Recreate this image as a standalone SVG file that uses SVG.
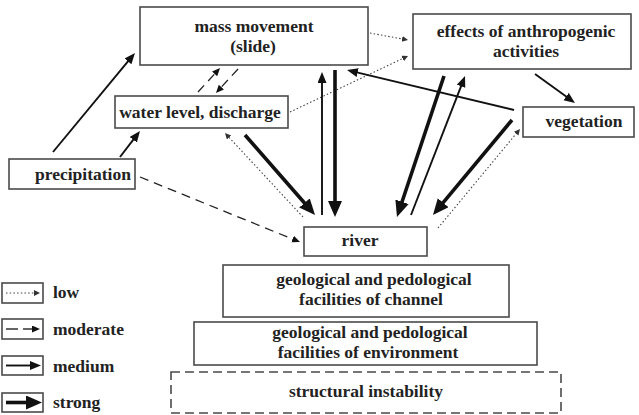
<svg xmlns="http://www.w3.org/2000/svg" width="639" height="415" viewBox="0 0 639 415">
<defs>
<style>
.box{fill:#fff;stroke:#4a4a4a;stroke-width:1.6}
.dbox{fill:#fff;stroke:#4a4a4a;stroke-width:1.6;stroke-dasharray:9,5}
.t{font-family:"Liberation Serif","Times New Roman",serif;font-weight:bold;font-size:17.5px;fill:#222;text-anchor:middle}
.lt{font-family:"Liberation Serif","Times New Roman",serif;font-weight:bold;font-size:17.5px;fill:#222}
.low{fill:none;stroke:#444;stroke-width:1.1;stroke-dasharray:1.5,2.2;marker-end:url(#mLow)}
.mod{fill:none;stroke:#222;stroke-width:1.3;stroke-dasharray:9,6;marker-end:url(#mMod)}
.med{fill:none;stroke:#111;stroke-width:1.9;marker-end:url(#mMed)}
.str{fill:none;stroke:#111;stroke-width:3.6;marker-end:url(#mStr)}
</style>
<marker id="mLow" markerUnits="userSpaceOnUse" markerWidth="8" markerHeight="8" refX="1" refY="3" orient="auto"><path d="M0,0 L6,3 L0,6 z" fill="#333"/></marker>
<marker id="mMod" markerUnits="userSpaceOnUse" markerWidth="10" markerHeight="10" refX="1" refY="3.5" orient="auto"><path d="M0,0 L8,3.5 L0,7 z" fill="#111"/></marker>
<marker id="mMed" markerUnits="userSpaceOnUse" markerWidth="12" markerHeight="12" refX="1" refY="4.5" orient="auto"><path d="M0,0 L11,4.5 L0,9 z" fill="#111"/></marker>
<marker id="mStr" markerUnits="userSpaceOnUse" markerWidth="18" markerHeight="16" refX="2" refY="7" orient="auto"><path d="M0,0 L16,7 L0,14 z" fill="#111"/></marker>
</defs>
<rect width="639" height="415" fill="#fff"/>

<g id="connectors">
<line class="med" x1="53" y1="152" x2="128.6" y2="60.7"/>
<line class="med" x1="120" y1="157" x2="133.9" y2="138.9"/>
<line class="mod" x1="140" y1="177" x2="293.5" y2="239.4"/>
<line class="mod" x1="198" y1="92" x2="215.3" y2="73.2"/>
<line class="mod" x1="238" y1="69" x2="220.7" y2="87.8"/>
<line class="low" x1="290" y1="112" x2="403.5" y2="58.1"/>
<line class="low" x1="370" y1="33" x2="403.1" y2="39.1"/>
<line class="low" x1="303" y1="217" x2="228.4" y2="136.7"/>
<line class="str" x1="245" y1="135" x2="305.8" y2="204.5"/>
<line class="med" x1="322" y1="215" x2="322" y2="82"/>
<line class="str" x1="335" y1="70" x2="335" y2="203"/>
<line class="med" x1="514" y1="110" x2="356.7" y2="72.3"/>
<line class="str" x1="444" y1="76" x2="401.4" y2="203.7"/>
<line class="med" x1="411" y1="215" x2="461.4" y2="85.3"/>
<line class="str" x1="512" y1="120" x2="441.9" y2="204.2"/>
<line class="low" x1="438" y1="228" x2="516.8" y2="132.9"/>
<line class="med" x1="535" y1="74" x2="566.9" y2="97.1"/>
</g>

<g id="mass-movement">
<rect class="box" x="140" y="7" width="228" height="58"/>
<text class="t" x="254" y="32">mass movement</text>
<text class="t" x="253" y="52">(slide)</text>
</g>
<g id="effects">
<rect class="box" x="413" y="14" width="218" height="55"/>
<text class="t" x="526" y="37">effects of anthropogenic</text>
<text class="t" x="526" y="57">activities</text>
</g>
<g id="water-level">
<rect class="box" x="115" y="96" width="173" height="32"/>
<text class="t" x="200" y="118">water level, discharge</text>
</g>
<g id="precipitation">
<rect class="box" x="9" y="159" width="126" height="30"/>
<text class="t" x="83" y="180">precipitation</text>
</g>
<g id="vegetation">
<rect class="box" x="523" y="107" width="111" height="30"/>
<text class="t" x="584" y="127">vegetation</text>
</g>
<g id="river">
<rect class="box" x="304" y="227" width="123" height="29"/>
<text class="t" x="360" y="246">river</text>
</g>
<g id="geo-channel">
<rect class="box" x="223" y="265" width="286" height="52"/>
<text class="t" x="374" y="285">geological and pedological</text>
<text class="t" x="371" y="305">facilities of channel</text>
</g>
<g id="geo-environment">
<rect class="box" x="194" y="322" width="343" height="43"/>
<text class="t" x="370" y="338">geological and pedological</text>
<text class="t" x="368" y="358">facilities of environment</text>
</g>
<g id="structural-instability">
<rect class="dbox" x="171" y="372" width="390" height="41"/>
<text class="t" x="366" y="397">structural instability</text>
</g>

<g id="legend">
<rect class="box" x="2" y="283" width="41" height="20"/>
<line class="low" x1="6" y1="293" x2="35" y2="293"/>
<text class="lt" x="53" y="298">low</text>
<rect class="box" x="2" y="319" width="41" height="20"/>
<line stroke="#111" stroke-width="1.3" x1="6" y1="329" x2="18" y2="329"/>
<line stroke="#111" stroke-width="1.3" x1="23" y1="329" x2="33" y2="329" marker-end="url(#mMod)"/>
<text class="lt" x="53" y="335">moderate</text>
<rect class="box" x="2" y="356" width="41" height="19"/>
<line class="med" x1="6" y1="365.5" x2="31" y2="365.5"/>
<text class="lt" x="53" y="372">medium</text>
<rect class="box" x="2" y="393" width="41" height="19"/>
<line class="str" x1="6" y1="402.5" x2="28" y2="402.5"/>
<text class="lt" x="53" y="408">strong</text>
</g>
</svg>
